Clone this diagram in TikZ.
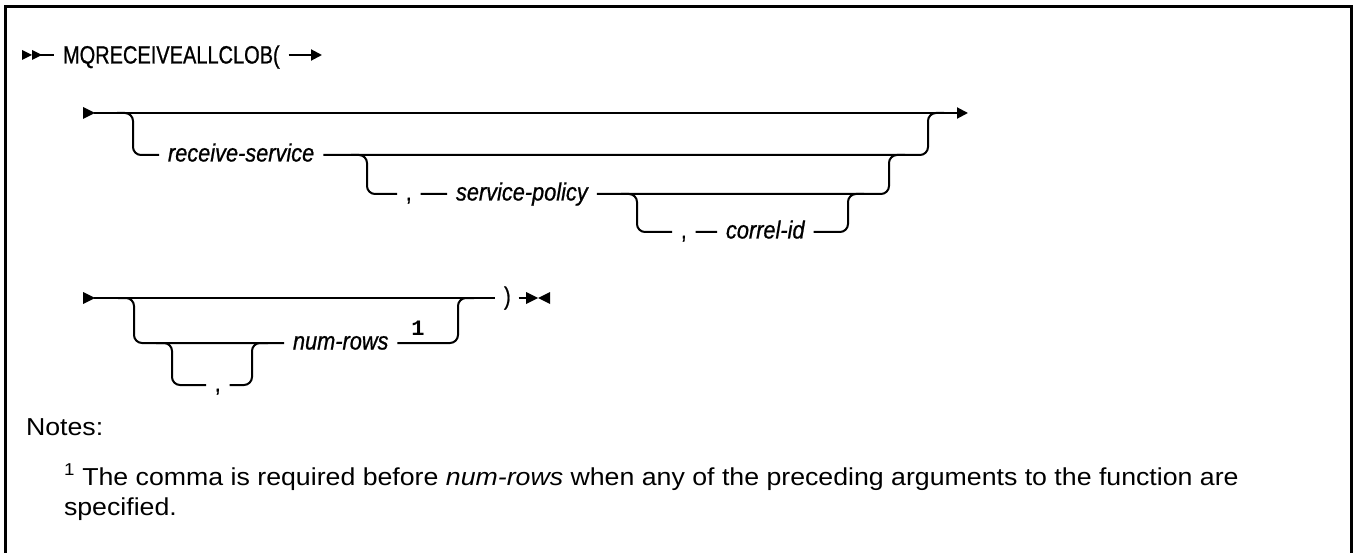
\documentclass[tikz,border=0pt]{standalone}
\usepackage{fontspec}
\setmainfont{Liberation Sans}
\setmonofont{Liberation Mono}
\newfontfamily\synfont[FakeStretch=0.80, FakeBold=0.8]{Liberation Sans}
\newfontfamily\synitfont[FakeStretch=0.87, FakeBold=0.8]{Liberation Sans}
\newfontfamily\notefont[FakeStretch=1.09]{Liberation Sans}
\usetikzlibrary{arrows.meta}

\begin{document}
\begin{tikzpicture}[x=1pt, y=-1pt, line width=2pt,
	every node/.style={inner ysep=0pt, inner xsep=8pt, text depth=0pt},
	kw/.style={font=\synfont\fontsize{25}{25}\selectfont, anchor=west, text height=17pt},
	sym/.style={font=\synfont\fontsize{25}{25}\selectfont, anchor=west, text height=13pt},
	var/.style={font=\synitfont\itshape\fontsize{25}{25}\selectfont, anchor=west, text height=13pt},
	fnote/.style={font=\ttfamily\bfseries\fontsize{22}{22}\selectfont, inner sep=0pt},
	note/.style={font=\notefont\fontsize{24.5}{29}\selectfont, anchor=base west, inner sep=0pt, text depth=},
	brk/.style={rounded corners=8pt},
	tipfill/.style={fill=black, draw=none},
	>={Triangle[length=11pt, width=11pt]}]
	\useasboundingbox (0,0) rectangle (1354,553);
	\draw[line width=3pt] (5,553) -- (5,7) -- (1351,7) -- (1351,553);

	\fill[tipfill] (22,50) -- (32,55) -- (22,60) -- cycle;
	\fill[tipfill] (32,50) -- (42,55) -- (32,60) -- cycle;
	\coordinate (s0) at (32,55);
	\node[kw] (fn) at (54,55) {MQRECEIVEALLCLOB(};
	\coordinate (e0) at (322,55);
	\draw (s0) -- (fn);
	\draw[->] (fn) -- (e0);

	\fill[tipfill] (83,107) -- (95,113) -- (83,119) -- cycle;
	\coordinate (s1) at (94,113);
	\coordinate (e1) at (968,113);
	\draw[->] (s1) -- (e1);
	\node[var] (rs) at (159,155) {receive-service};
	\node[sym] (cm1) at (397,194) {,};
	\node[var] (sp) at (447,194) {service-policy};
	\node[sym] (cm2) at (672,232) {,};
	\node[var] (ci) at (717,232) {correl-id};
	\draw[brk] (117,113) -- (133,113) -- (133,155) -- (rs) -- (928,155) -- (928,113) -- (944,113);
	\draw[brk] (351,155) -- (367,155) -- (367,194) -- (cm1) -- (sp) -- (889,194) -- (889,155) -- (905,155);
	\draw[brk] (621,194) -- (637,194) -- (637,232) -- (cm2) -- (ci) -- (848,232) -- (848,194) -- (864,194);

	\fill[tipfill] (83,292) -- (95,298) -- (83,304) -- cycle;
	\coordinate (s2) at (94,298);
	\node[sym] (rp) at (495,298) {)};
	\coordinate (e2) at (528,298);
	\draw (s2) -- (rp);
	\draw ([xshift=-1pt]rp.east) -- (e2);
	\fill[tipfill] (526,292) -- (538,298) -- (526,304) -- cycle;
	\fill[tipfill] (550,292) -- (538,298) -- (550,304) -- cycle;
	\node[var] (nr) at (284,343) {num-rows};
	\node[fnote] (fn1) at (418,328) {1};
	\node[sym] (cm3) at (206,385) {,};
	\draw[brk] (118,298) -- (134,298) -- (134,343) -- (nr) -- (458,343) -- (458,298) -- (474,298);
	\draw[brk] (156,343) -- (172,343) -- (172,385) -- (cm3) -- (252,385) -- (252,343) -- (268,343);

	\node[note] (nh) at (25,435) {Notes:};
	\node[note] (nt1) at (63,485) {\textsuperscript{1} The comma is required before \textit{num-rows} when any of the preceding arguments to the function are};
	\node[note] (nt2) at (63,515) {specified.};
\end{tikzpicture}
\end{document}
